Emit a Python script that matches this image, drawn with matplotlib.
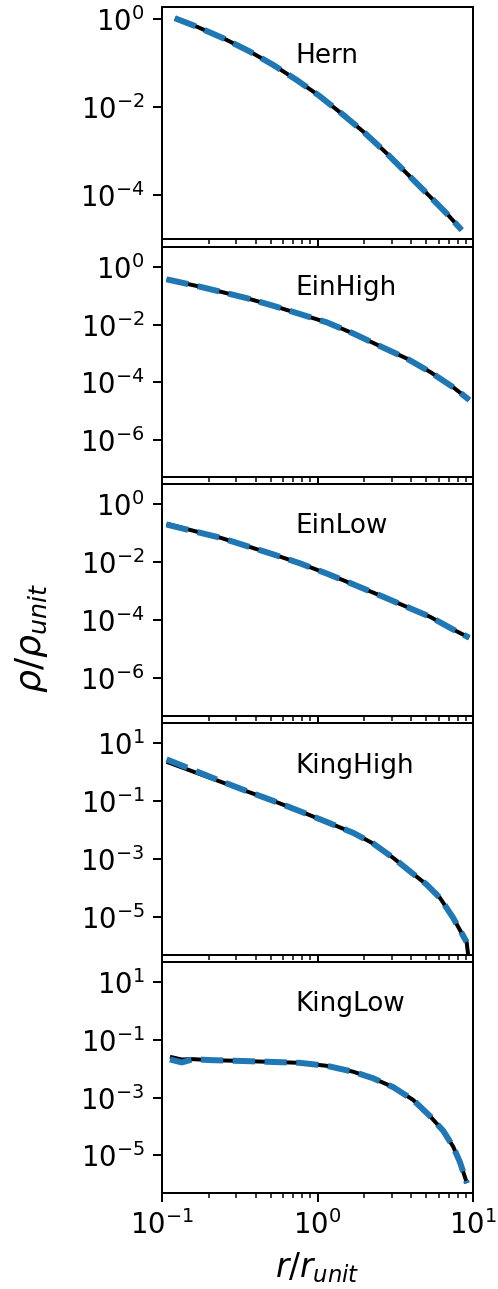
import numpy as np
import matplotlib
matplotlib.use("Agg")
import matplotlib.pyplot as plt
from matplotlib.ticker import NullLocator

# ---------------- data ----------------
names = ["Hern", "EinHigh", "EinLow", "KingHigh", "KingLow"]

hern_r = [0.121, 0.167, 0.248, 0.368, 0.520, 0.734, 1.01, 1.466, 1.97, 2.72, 3.75, 5.03, 6.77, 8.45]
hern_model = [1.04, 0.67, 0.364, 0.181, 0.090, 0.0411, 0.0187, 0.0066, 0.00275, 9.6e-4, 3.1e-4, 1.1e-4, 3.8e-5, 1.6e-5]
hern_sim = [1.04, 0.67, 0.364, 0.181, 0.090, 0.0411, 0.0187, 0.0066, 0.00275, 9.6e-4, 3.1e-4, 1.1e-4, 3.8e-5, 1.6e-5]

einh_r = [0.107, 0.167, 0.236, 0.351, 0.52, 0.771, 1.145, 1.70, 2.52, 3.75, 5.29, 7.46, 9.46]
einh_model = [0.376, 0.221, 0.141, 0.083, 0.045, 0.0233, 0.012, 0.0049, 1.79e-3, 6.6e-4, 2.27e-4, 6.6e-5, 2.4e-5]
einh_sim = [0.376, 0.221, 0.141, 0.083, 0.045, 0.0233, 0.012, 0.0049, 1.79e-3, 6.6e-4, 2.27e-4, 6.6e-5, 2.4e-5]

einl_r = [0.107, 0.144, 0.236, 0.351, 0.52, 0.771, 1.145, 1.70, 2.52, 3.75, 5.29, 7.46, 9.46]
einl_model = [0.215, 0.14, 0.0708, 0.0363, 0.0187, 9.2e-3, 4.1e-3, 1.73e-3, 7.2e-4, 2.9e-4, 1.32e-4, 4.8e-5, 2.5e-5]
einl_sim = [0.200, 0.135, 0.0708, 0.0363, 0.0187, 9.2e-3, 4.1e-3, 1.73e-3, 7.2e-4, 2.9e-4, 1.32e-4, 4.8e-5, 2.5e-5]

kingh_r = [0.107, 0.159, 0.236, 0.351, 0.52, 0.771, 1.145, 1.70, 2.28, 3.08, 4.13, 5.03, 6.14, 7.46, 9.1]
kingh_model_r = [0.107, 0.159, 0.236, 0.351, 0.52, 0.771, 1.145, 1.70, 2.28, 3.08, 4.13, 5.03, 6.14, 7.46, 9.1, 9.5]
kingh_model = [2.3, 1.05, 0.48, 0.22, 0.103, 0.0454, 0.0194, 8.1e-3, 3.5e-3, 1.1e-3, 3.1e-4, 1.35e-4, 4.6e-5, 9.5e-6, 1.4e-6, 2e-7]
kingh_sim = [2.79, 1.19, 0.508, 0.224, 0.103, 0.0454, 0.0194, 8.1e-3, 3.5e-3, 1.1e-3, 3.1e-4, 1.35e-4, 4.6e-5, 9.5e-6, 1.4e-6]

kingl_r = [0.1125, 0.134, 0.159, 0.204, 0.302, 0.495, 0.771, 1.145, 1.70, 2.28, 3.08, 4.13, 5.29, 6.45, 7.46, 8.23, 9.14]
kingl_model = [0.026, 0.021, 0.0216, 0.020, 0.0189, 0.0174, 0.0161, 0.0127, 7.9e-3, 4.7e-3, 2.29e-3, 8.3e-4, 2.3e-4, 7.0e-5, 2.0e-5, 6.0e-6, 1.1e-6]
kingl_sim = [0.0211, 0.01665, 0.0216, 0.020, 0.0189, 0.0174, 0.0161, 0.0127, 7.9e-3, 4.7e-3, 2.29e-3, 8.3e-4, 2.3e-4, 7.0e-5, 2.0e-5, 6.0e-6, 1.1e-6]

model_r = [hern_r, einh_r, einl_r, kingh_model_r, kingl_r]
model_rho = [hern_model, einh_model, einl_model, kingh_model, kingl_model]
sim_r = [hern_r, einh_r, einl_r, kingh_r, kingl_r]
sim_rho = [hern_sim, einh_sim, einl_sim, kingh_sim, kingl_sim]

ylims = [(1e-5, 1.87), (5e-8, 5), (5e-8, 5), (5e-7, 50), (5e-7, 50)]
yticks = [[1e0, 1e-2, 1e-4],
          [1e0, 1e-2, 1e-4, 1e-6],
          [1e0, 1e-2, 1e-4, 1e-6],
          [1e1, 1e-1, 1e-3, 1e-5],
          [1e1, 1e-1, 1e-3, 1e-5]]
label_y = [0.757, 0.79, 0.79, 0.786, 0.788]

# ---------------- figure ----------------
W, H, DPI = 498, 1289, 180
fig = plt.figure(figsize=(W / DPI, H / DPI), dpi=DPI)
plt.rcParams['font.size'] = 10

panels_px = [(7, 239), (247, 477), (484, 716), (723, 955), (962, 1193)]
left_px, right_px = 162, 473

axes = []
for i, (top, bot) in enumerate(panels_px):
    rect = [left_px / W, 1 - bot / H, (right_px - left_px) / W, (bot - top) / H]
    ax = fig.add_axes(rect, sharex=axes[0] if axes else None)
    axes.append(ax)
    ax.plot(model_r[i], model_rho[i], color='k', lw=1.6, solid_capstyle='butt', zorder=2)
    ax.plot(sim_r[i], sim_rho[i], color='#1f77b4', lw=2.4, ls='--', zorder=3)
    ax.set_xscale('log')
    ax.set_yscale('log')
    ax.set_xlim(0.1, 10)
    ax.set_ylim(*ylims[i])
    ax.set_yticks(yticks[i])
    ax.yaxis.set_minor_locator(NullLocator())
    ax.text(0.43, label_y[i], names[i], transform=ax.transAxes, fontsize=10.5,
            ha='left', va='baseline')
    ax.tick_params(labelsize=11)
    if i < 4:
        ax.tick_params(axis='x', which='both', labelbottom=False)

axes[-1].set_xlabel(r'$r/r_{unit}$', fontsize=13)
fig.text(32 / W, 1 - 638 / H, r'$\rho/\rho_{unit}$', rotation=90,
         ha='center', va='center', fontsize=14.5)

fig.savefig('out.png', dpi=DPI)
